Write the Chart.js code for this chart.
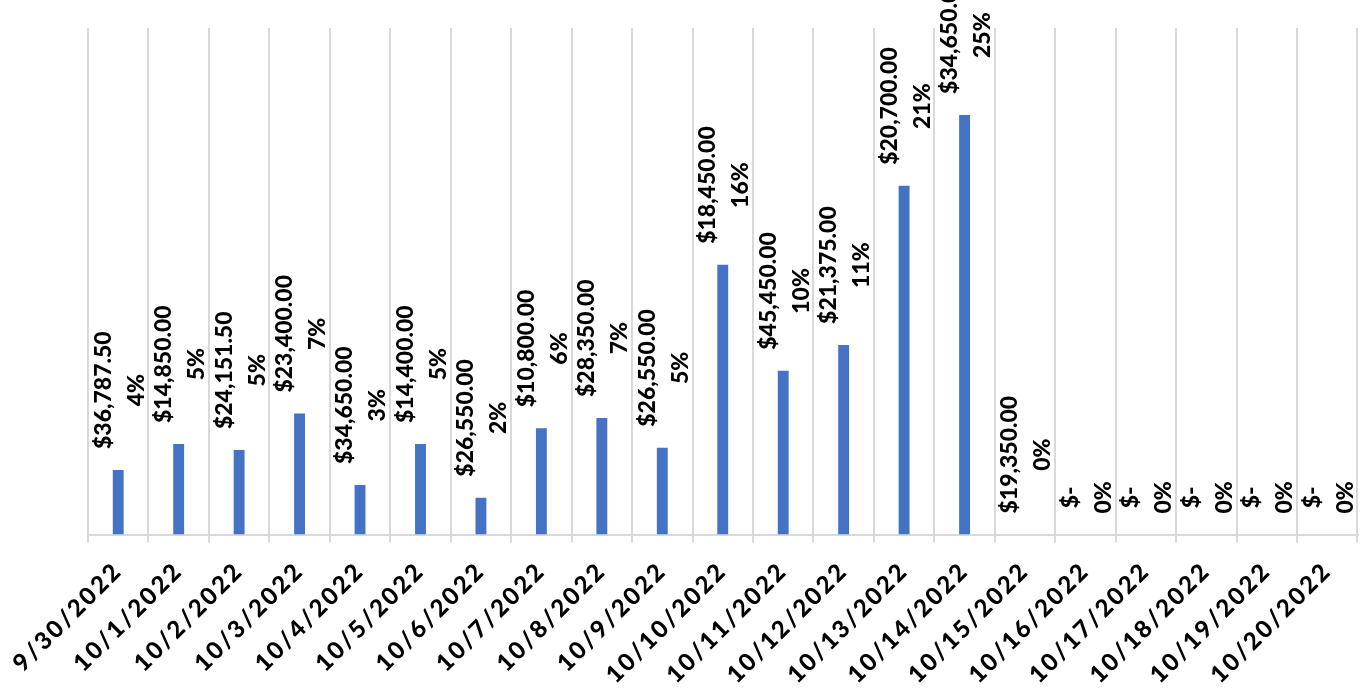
<!DOCTYPE html>
<html>
<head>
<meta charset="utf-8">
<script src="https://cdn.jsdelivr.net/npm/chart.js@4"></script>
<style>
  body { margin: 0; background: #fff; }
  canvas { display: block; }
</style>
</head>
<body>
<canvas id="myChart" width="1366" height="688"></canvas>
<script>
const dates = ['9/30/2022', '10/1/2022', '10/2/2022', '10/3/2022', '10/4/2022', '10/5/2022', '10/6/2022',
  '10/7/2022', '10/8/2022', '10/9/2022', '10/10/2022', '10/11/2022', '10/12/2022', '10/13/2022',
  '10/14/2022', '10/15/2022', '10/16/2022', '10/17/2022', '10/18/2022', '10/19/2022', '10/20/2022'];

// share of the day (bar height)
const shares = [0.0382, 0.0536, 0.0500, 0.0716, 0.0293, 0.0536, 0.0218, 0.0629, 0.0690, 0.0514,
  0.1597, 0.0970, 0.1123, 0.2065, 0.2485, 0, 0, 0, 0, 0, 0];

// dollar amount shown on the first label line
const amounts = [36787.50, 14850, 24151.50, 23400, 34650, 14400, 26550, 10800, 28350, 26550,
  18450, 45450, 21375, 20700, 34650, 19350, 0, 0, 0, 0, 0];

const yMax = 0.30;

function formatMoney(v) {
  if (v === 0) return '$-';
  return '$' + v.toLocaleString('en-US', { minimumFractionDigits: 2, maximumFractionDigits: 2 });
}

// wider spacing on the rotated date labels, like the excel rendering
const tickSpacing = {
  id: 'tickSpacing',
  beforeDraw(chart) {
    chart.ctx.letterSpacing = '2.5px';
  },
  beforeDatasetsDraw(chart) {
    chart.ctx.letterSpacing = '0px';
  }
};

const barLabels = {
  id: 'barLabels',
  afterDatasetsDraw(chart) {
    const ctx = chart.ctx;
    const meta = chart.getDatasetMeta(0);
    ctx.save();
    ctx.letterSpacing = '0px';
    ctx.font = '900 23px Lato';
    ctx.fillStyle = '#000';
    ctx.textAlign = 'center';
    ctx.textBaseline = 'middle';
    meta.data.forEach((bar, i) => {
      const line1 = formatMoney(amounts[i]);
      const line2 = Math.round(shares[i] * 100) + '%';
      const w = Math.max(ctx.measureText(line1).width, ctx.measureText(line2).width);
      ctx.save();
      ctx.translate(bar.x, bar.y - 21 - w / 2);
      ctx.rotate(-Math.PI / 2);
      ctx.fillText(line1, 0, -15);
      ctx.fillText(line2, 0, 18);
      ctx.restore();
    });
    ctx.restore();
  }
};

function createChart() {
  const ctx = document.getElementById('myChart').getContext('2d');

  new Chart(ctx, {
    type: 'bar',
    data: {
      labels: dates,
      datasets: [{
        data: shares,
        backgroundColor: '#4472C4',
        borderWidth: 0,
        barPercentage: 0.18,
        categoryPercentage: 1
      }]
    },
    options: {
      responsive: false,
      animation: false,
      devicePixelRatio: 1,
      layout: {
        padding: { left: 88, right: 8.5, top: 28, bottom: 0 }
      },
      plugins: {
        legend: { display: false },
        tooltip: { enabled: false }
      },
      scales: {
        x: {
          afterFit: function (scale) {
            scale.height = 153.5;
          },
          grid: {
            color: '#d9d9d9',
            lineWidth: 2,
            tickLength: 8
          },
          border: {
            color: '#d9d9d9',
            width: 2
          },
          ticks: {
            autoSkip: false,
            minRotation: 45,
            maxRotation: 45,
            padding: 14,
            color: '#000',
            font: { family: 'Lato', size: 24, weight: 900 }
          }
        },
        y: {
          display: false,
          min: 0,
          max: yMax
        }
      }
    },
    plugins: [tickSpacing, barLabels]
  });
}

window.onload = createChart;
</script>
</body>
</html>
